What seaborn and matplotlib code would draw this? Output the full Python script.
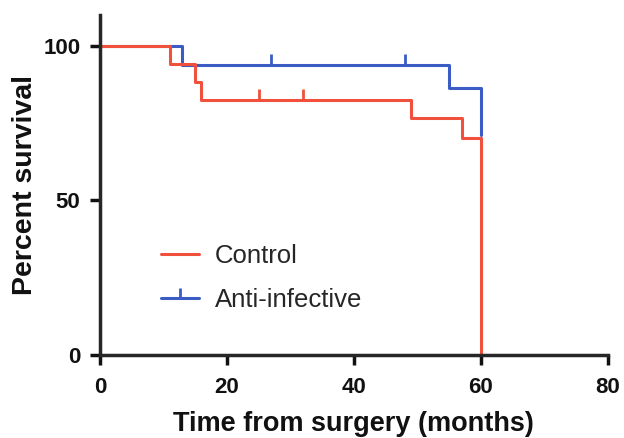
import pandas as pd
import matplotlib.pyplot as plt
import seaborn as sns
from matplotlib.lines import Line2D

# Kaplan-Meier step values
control_time = [0, 11, 15, 16, 49, 57, 60]
control_surv = [100, 94.1, 88.2, 82.4, 76.5, 70.1, 0]
control_cens_time = [25, 32]
control_cens_surv = [82.4, 82.4]

anti_time = [0, 13, 55, 60]
anti_surv = [100, 93.75, 86.5, 71]
anti_cens_time = [27, 48]
anti_cens_surv = [93.75, 93.75]

red = '#f0503c'
blue = '#3a5cc4'

sns.set_style('ticks')
plt.rcParams['font.family'] = ['Liberation Sans', 'DejaVu Sans']

fig = plt.figure(figsize=(6.24, 4.38), dpi=100)
ax = fig.add_axes([0.160, 0.19, 0.814, 0.776])

ctrl = pd.DataFrame({'time': control_time, 'surv': control_surv})
anti = pd.DataFrame({'time': anti_time, 'surv': anti_surv})

# blue first so the red curve sits on top where they overlap
sns.lineplot(data=anti, x='time', y='surv', drawstyle='steps-post', color=blue,
             linewidth=2.2, estimator=None, sort=False, ax=ax)
sns.lineplot(data=ctrl, x='time', y='surv', drawstyle='steps-post', color=red,
             linewidth=2.2, estimator=None, sort=False, ax=ax)

# censor ticks
sns.scatterplot(x=anti_cens_time, y=anti_cens_surv, marker=2, s=60, color=blue,
                linewidth=2, ax=ax)
sns.scatterplot(x=control_cens_time, y=control_cens_surv, marker=2, s=60, color=red,
                linewidth=2, ax=ax)

ax.set_xlim(0, 80)
ax.set_ylim(0, 110)
ax.set_xticks([0, 20, 40, 60, 80])
ax.set_yticks([0, 50, 100])
sns.despine(ax=ax)
for s in ['left', 'bottom']:
    ax.spines[s].set_linewidth(2.5)
ax.tick_params(width=2.5, length=7, labelsize=16, colors='#111111')
ax.tick_params(axis='x', pad=9)
ax.tick_params(axis='y', pad=7)
for lab in ax.get_xticklabels() + ax.get_yticklabels():
    lab.set_fontweight('bold')

ax.set_xlabel('Time from surgery (months)', fontsize=19.5, fontweight='bold',
              labelpad=9, color='#111111')
ax.set_ylabel('Percent survival', fontsize=20.5, fontweight='bold',
              labelpad=4, color='#111111')

handles = [Line2D([], [], color=red, linewidth=2.2),
           Line2D([], [], color=blue, linewidth=2.2, marker=2, markersize=7, markeredgewidth=2)]
ax.legend(handles, ['Control', 'Anti-infective'], loc='lower left',
          bbox_to_anchor=(0.074, 0.057), frameon=False, fontsize=18.5,
          handlelength=1.5, handletextpad=0.6, labelspacing=0.8)

fig.savefig('out.png', dpi=100)
